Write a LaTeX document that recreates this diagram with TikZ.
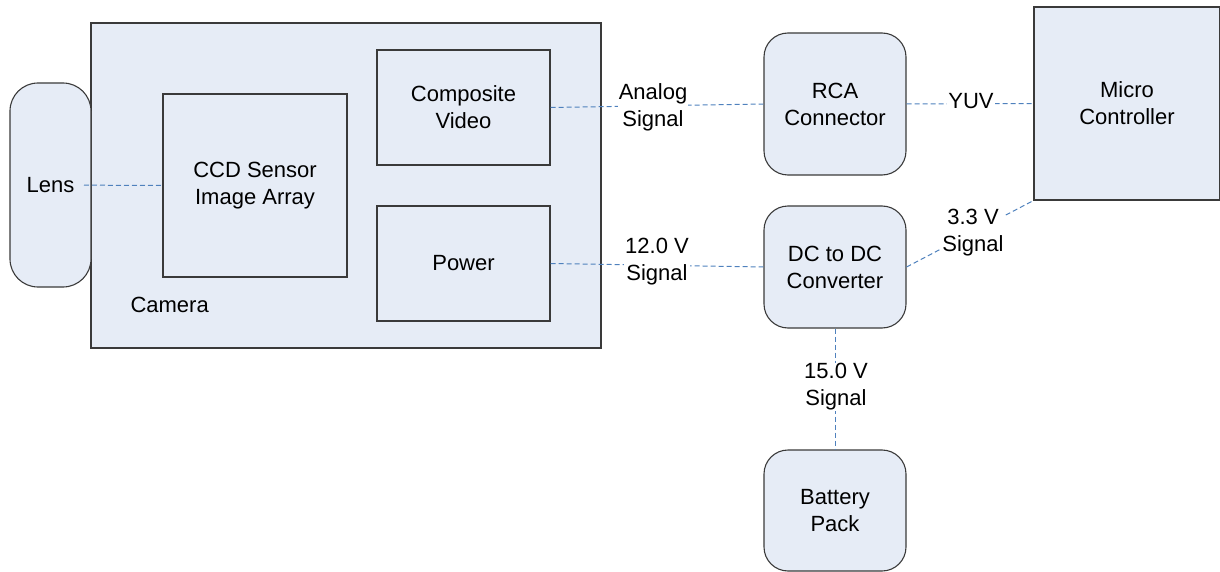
\documentclass[tikz,border=0pt]{standalone}
\usepackage{fontspec}
\setmainfont{Liberation Sans}
\definecolor{boxfill}{HTML}{E6ECF6}
\definecolor{boxline}{HTML}{3A3A3A}
\definecolor{connblue}{HTML}{4F81BD}
\tikzset{
  blk/.style={draw=boxline, line width=1.1pt, fill=boxfill, align=center, inner sep=0pt,
    font=\fontsize{22}{27}\selectfont},
  rblk/.style={blk, rounded corners=24pt},
  conn/.style={draw=connblue, line width=1pt, dash pattern=on 5pt off 3pt},
  elabel/.style={fill=white, inner sep=1pt, align=center, font=\fontsize{22}{27}\selectfont}
}
\begin{document}
\begin{tikzpicture}[x=1pt,y=-1pt]
\useasboundingbox (0,0) rectangle (1220,572);
% camera group
\node[blk, minimum width=510pt, minimum height=325pt] (camera) at (346,185.5) {};
\node[anchor=west, font=\fontsize{22}{27}\selectfont] (camlabel) at (127,305) {Camera};
\node[rblk, rounded corners=28pt, minimum width=81pt, minimum height=204pt] (lens) at (50.5,185) {};
\node[blk, minimum width=184pt, minimum height=183pt] (ccd) at (255,185.5) {CCD Sensor\\Image Array};
\node[blk, minimum width=173pt, minimum height=115pt] (comp) at (463.5,107.5) {Composite\\Video};
\node[blk, minimum width=173pt, minimum height=115pt] (power) at (463.5,263.5) {Power};
% right side
\node[rblk, minimum width=142pt, minimum height=142pt] (rca) at (835,104) {RCA\\Connector};
\node[rblk, minimum width=142pt, minimum height=122pt] (dc) at (835,267) {DC to DC\\Converter};
\node[rblk, minimum width=142pt, minimum height=121pt] (battery) at (835,510.5) {Battery\\Pack};
\node[blk, minimum width=186pt, minimum height=193pt] (micro) at (1127,103.5) {Micro\\Controller};
% connectors
\draw[conn, shorten <=33.5pt] (lens.center) -- (ccd.west);
\node[font=\fontsize{22}{27}\selectfont, inner sep=0pt] (lenslabel) at (lens.center) {Lens};
\draw[conn] (comp.east) -- (rca.west);
\draw[conn] (power.east) -- (dc.west);
\draw[conn] (rca.east) -- (micro.west);
\draw[conn] (dc.east) -- (micro.south west);
\draw[conn] (dc.south) -- (battery.north);
% connector labels
\node[elabel] (lanalog) at (653,107) {Analog\\Signal};
\node[elabel] (l12) at (657,262) {12.0 V\\Signal};
\node[elabel] (lyuv) at (971,101) {YUV};
\node[elabel] (l33) at (973,233) {3.3 V\\Signal};
\node[elabel] (l15) at (836,387) {15.0 V\\Signal};
\end{tikzpicture}
\end{document}
